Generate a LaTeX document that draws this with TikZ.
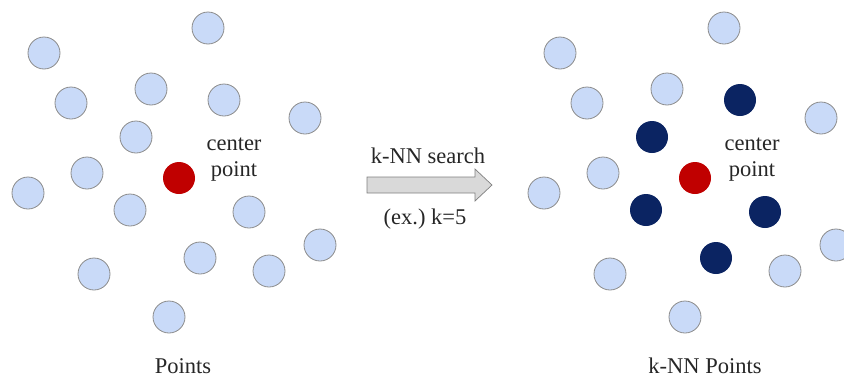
\documentclass[tikz,border=0pt]{standalone}
\usepackage{fontspec}
\setmainfont{Liberation Serif}
\definecolor{ptfill}{HTML}{C9DAF8}
\definecolor{ptdraw}{HTML}{8C8C8C}
\definecolor{ctr}{HTML}{C00000}
\definecolor{nn}{HTML}{0B2462}
\definecolor{arrfill}{HTML}{D9D9D9}
\definecolor{arrdraw}{HTML}{7F7F7F}
\tikzset{
  pt/.style={circle, minimum size=32pt, inner sep=0pt, fill=ptfill, draw=ptdraw, line width=0.8pt},
  cpt/.style={circle, minimum size=32pt, inner sep=0pt, fill=ctr},
  nnpt/.style={circle, minimum size=32pt, inner sep=0pt, fill=nn},
  lbl/.style={font=\fontsize{22.5pt}{26pt}\selectfont, text=black!85, inner sep=0pt, align=center},
  arrowshape/.style={fill=arrfill, draw=arrdraw, line width=0.7pt, line join=miter}
}
\begin{document}
\begin{tikzpicture}[x=1pt,y=-1pt]
\useasboundingbox (0,0) rectangle (844,378);
% left set
\node[pt] (l1) at (208,28) {};
\node[pt] (l2) at (44,53) {};
\node[pt] (l3) at (71,103) {};
\node[pt] (l4) at (151,89) {};
\node[pt] (l5) at (224,100) {};
\node[pt] (l6) at (305,118) {};
\node[pt] (l7) at (136,137) {};
\node[pt] (l8) at (87,173) {};
\node[pt] (l9) at (28,193) {};
\node[cpt] (lc) at (179,178) {};
\node[pt] (l11) at (130,210) {};
\node[pt] (l12) at (249,212) {};
\node[pt] (l13) at (320,245) {};
\node[pt] (l14) at (200,258) {};
\node[pt] (l15) at (269,271) {};
\node[pt] (l16) at (94,274) {};
\node[pt] (l17) at (169,317) {};
\node[lbl] (lct) at (234,160) {center\\point};
\node[lbl] (lt) at (183,366) {Points};
% right set
\begin{scope}[xshift=516pt]
\node[pt] (r1) at (208,28) {};
\node[pt] (r2) at (44,53) {};
\node[pt] (r3) at (71,103) {};
\node[pt] (r4) at (151,89) {};
\node[nnpt] (r5) at (224,100) {};
\node[pt] (r6) at (305,118) {};
\node[nnpt] (r7) at (136,137) {};
\node[pt] (r8) at (87,173) {};
\node[pt] (r9) at (28,193) {};
\node[cpt] (rc) at (179,178) {};
\node[nnpt] (r11) at (130,210) {};
\node[nnpt] (r12) at (249,212) {};
\node[pt] (r13) at (320,245) {};
\node[nnpt] (r14) at (200,258) {};
\node[pt] (r15) at (269,271) {};
\node[pt] (r16) at (94,274) {};
\node[pt] (r17) at (169,317) {};
\node[lbl] (rct) at (236,160) {center\\point};
\node[lbl] (rt) at (189,366) {k-NN Points};
\end{scope}
% arrow
\coordinate (atail) at (367,185);
\coordinate (atip) at (492,185);
\draw[arrowshape] (367,177) -- (475,177) -- (475,169) -- (atip) -- (475,201) -- (475,193) -- (367,193) -- cycle;
\node[lbl] (s1) at (428,156) {k-NN search};
\node[lbl] (s2) at (425,219) {(ex.)\ k=5};
\end{tikzpicture}
\end{document}
